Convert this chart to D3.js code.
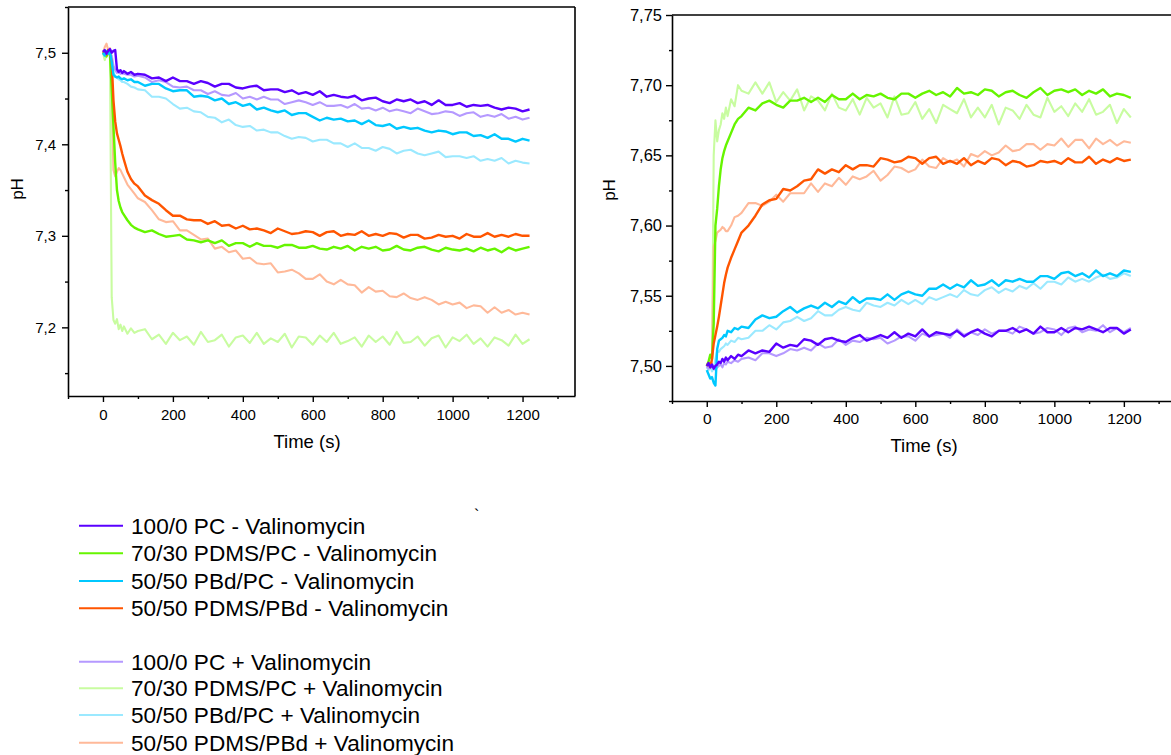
<!DOCTYPE html>
<html><head><meta charset="utf-8">
<script src="https://cdn.jsdelivr.net/npm/d3@7"></script>
<style>body{margin:0;background:#fff;} svg{display:block;font-family:"Liberation Sans",Arial,sans-serif;}</style>
</head><body><svg id="c" width="1171" height="755"></svg>
<script>
// ---------------- DATA ----------------
const timeS = [0,5,10,15,20,25,30,35,40,45,50,55,60,70,80,90,100,120,140,160,180,200,220,240,260,280,300,320,340,360,380,400,420,440,460,480,500,520,540,560,580,600,620,640,660,680,700,720,740,760,780,800,820,840,860,880,900,920,940,960,980,1000,1020,1040,1060,1080,1100,1120,1140,1160,1180,1200,1220];

const seriesNames = ["100/0 PC - Valinomycin","70/30 PDMS/PC - Valinomycin","50/50 PBd/PC - Valinomycin","50/50 PDMS/PBd - Valinomycin","100/0 PC + Valinomycin","70/30 PDMS/PC + Valinomycin","50/50 PBd/PC + Valinomycin","50/50 PDMS/PBd + Valinomycin"];
const seriesColors = ["#5a00ff","#66f500","#00c8ff","#ff5500","#b599ff","#c8fca0","#9be9ff","#ffb999"];

// Left panel (pH decreasing)
const left_PC_minus = [7.501,7.503,7.499,7.502,7.504,7.500,7.502,7.503,7.482,7.479,7.481,7.478,7.480,7.477,7.479,7.476,7.477,
7.476,7.472,7.473,7.469,7.473,7.469,7.469,7.466,7.469,7.467,7.463,7.466,7.466,7.462,7.461,7.463,7.464,7.459,7.460,7.460,7.457,7.459,7.455,7.457,7.454,7.458,7.452,7.454,7.452,7.451,7.453,7.448,7.450,7.451,7.447,7.445,7.449,7.447,7.449,7.445,7.447,7.443,7.448,7.443,7.443,7.445,7.441,7.443,7.442,7.443,7.440,7.438,7.440,7.439,7.436,7.438];
const left_PDMSPC_minus = [7.498,7.502,7.496,7.500,7.499,7.460,7.420,7.380,7.350,7.338,7.331,7.326,7.323,7.317,7.312,7.309,7.307,
7.304,7.306,7.302,7.299,7.300,7.301,7.296,7.295,7.293,7.295,7.292,7.295,7.289,7.292,7.292,7.288,7.292,7.289,7.289,7.287,7.290,7.290,7.287,7.287,7.289,7.286,7.285,7.288,7.286,7.289,7.284,7.288,7.286,7.288,7.284,7.285,7.289,7.285,7.284,7.287,7.288,7.285,7.283,7.287,7.285,7.284,7.286,7.283,7.287,7.284,7.286,7.282,7.287,7.284,7.286,7.288];
const left_PBdPC_minus = [7.500,7.497,7.502,7.499,7.501,7.490,7.476,7.474,7.473,7.474,7.472,7.471,7.472,7.470,7.471,7.468,7.468,
7.464,7.466,7.466,7.461,7.458,7.459,7.459,7.452,7.453,7.452,7.448,7.450,7.444,7.446,7.442,7.444,7.438,7.440,7.437,7.435,7.437,7.432,7.434,7.434,7.430,7.426,7.429,7.427,7.428,7.425,7.426,7.422,7.426,7.421,7.420,7.422,7.417,7.419,7.417,7.418,7.415,7.413,7.415,7.414,7.411,7.413,7.413,7.409,7.410,7.407,7.411,7.406,7.406,7.403,7.406,7.404];
const left_PDMSPBd_minus = [7.500,7.502,7.498,7.503,7.499,7.490,7.448,7.425,7.412,7.405,7.398,7.390,7.383,7.370,7.362,7.357,7.354,
7.344,7.339,7.335,7.328,7.322,7.322,7.318,7.317,7.317,7.313,7.316,7.311,7.312,7.308,7.311,7.307,7.308,7.306,7.303,7.308,7.305,7.302,7.303,7.305,7.304,7.300,7.304,7.305,7.300,7.302,7.301,7.305,7.300,7.302,7.300,7.303,7.302,7.298,7.301,7.301,7.297,7.298,7.301,7.299,7.300,7.297,7.302,7.299,7.299,7.303,7.299,7.301,7.299,7.302,7.300,7.300];
const left_PC_plus = [7.500,7.502,7.498,7.503,7.499,7.497,7.486,7.481,7.478,7.479,7.477,7.478,7.477,7.476,7.476,7.474,7.475,
7.473,7.468,7.470,7.468,7.463,7.462,7.463,7.459,7.459,7.455,7.458,7.454,7.453,7.456,7.450,7.452,7.449,7.452,7.449,7.449,7.444,7.446,7.448,7.446,7.443,7.446,7.442,7.442,7.443,7.440,7.444,7.439,7.440,7.437,7.440,7.436,7.438,7.436,7.434,7.439,7.436,7.433,7.434,7.436,7.435,7.431,7.434,7.435,7.430,7.432,7.430,7.433,7.428,7.430,7.427,7.429];
const left_PDMSPC_plus = [7.500,7.492,7.498,7.502,7.497,7.233,7.208,7.204,7.209,7.198,7.203,7.196,7.201,7.193,7.199,7.194,7.196,
7.198,7.187,7.192,7.182,7.194,7.186,7.190,7.181,7.195,7.184,7.186,7.192,7.179,7.189,7.191,7.183,7.194,7.182,7.188,7.184,7.193,7.178,7.190,7.189,7.181,7.191,7.184,7.194,7.182,7.185,7.189,7.179,7.191,7.184,7.190,7.181,7.195,7.183,7.184,7.190,7.180,7.188,7.191,7.178,7.189,7.185,7.192,7.182,7.188,7.179,7.189,7.186,7.180,7.192,7.182,7.187];
const left_PBdPC_plus = [7.500,7.503,7.498,7.501,7.499,7.489,7.478,7.475,7.473,7.471,7.470,7.468,7.468,7.466,7.463,7.462,7.460,
7.459,7.452,7.452,7.450,7.444,7.439,7.440,7.436,7.435,7.430,7.429,7.424,7.427,7.421,7.419,7.420,7.415,7.416,7.413,7.413,7.409,7.406,7.408,7.407,7.403,7.405,7.405,7.401,7.401,7.397,7.401,7.396,7.396,7.393,7.397,7.395,7.390,7.393,7.394,7.390,7.388,7.390,7.392,7.386,7.387,7.387,7.385,7.387,7.382,7.384,7.382,7.385,7.379,7.382,7.380,7.379];
const left_PDMSPBd_plus = [7.500,7.506,7.510,7.503,7.505,7.450,7.372,7.365,7.370,7.374,7.372,7.368,7.364,7.356,7.351,7.346,7.341,
7.337,7.328,7.318,7.315,7.316,7.306,7.306,7.301,7.296,7.297,7.286,7.288,7.282,7.284,7.275,7.276,7.270,7.269,7.270,7.260,7.261,7.263,7.259,7.253,7.253,7.258,7.250,7.247,7.252,7.247,7.246,7.238,7.244,7.239,7.240,7.234,7.233,7.237,7.232,7.230,7.233,7.230,7.225,7.228,7.225,7.227,7.221,7.224,7.223,7.216,7.222,7.216,7.219,7.214,7.216,7.214];

// Right panel (pH increasing)
const right_PC_minus = [7.500,7.502,7.499,7.501,7.498,7.500,7.501,7.503,7.502,7.505,7.503,7.506,7.504,7.507,7.505,7.508,7.507,
7.511,7.509,7.511,7.510,7.516,7.513,7.515,7.514,7.519,7.518,7.515,7.519,7.520,7.518,7.517,7.520,7.522,7.518,7.520,7.522,7.520,7.524,7.520,7.523,7.521,7.526,7.521,7.524,7.523,7.522,7.525,7.521,7.524,7.526,7.523,7.521,7.525,7.525,7.527,7.524,7.526,7.523,7.528,7.524,7.524,7.527,7.524,7.527,7.526,7.528,7.526,7.524,7.527,7.527,7.523,7.526];
const right_PDMSPC_minus = [7.500,7.503,7.508,7.505,7.530,7.600,7.612,7.628,7.640,7.648,7.653,7.657,7.660,7.666,7.672,7.676,7.678,
7.684,7.682,7.687,7.689,7.686,7.684,7.689,7.689,7.691,7.688,7.691,7.688,7.693,7.690,7.690,7.694,7.690,7.693,7.692,7.694,7.691,7.690,7.694,7.694,7.691,7.694,7.696,7.693,7.695,7.692,7.698,7.694,7.695,7.693,7.697,7.696,7.692,7.695,7.696,7.693,7.691,7.695,7.698,7.693,7.696,7.697,7.695,7.697,7.693,7.696,7.694,7.697,7.692,7.694,7.693,7.691];
const right_PBdPC_minus = [7.497,7.494,7.491,7.492,7.488,7.486,7.512,7.518,7.519,7.520,7.522,7.521,7.525,7.524,7.527,7.526,7.528,
7.527,7.533,7.536,7.534,7.535,7.539,7.542,7.538,7.541,7.543,7.541,7.545,7.542,7.546,7.544,7.549,7.545,7.548,7.548,7.547,7.551,7.547,7.551,7.553,7.551,7.550,7.555,7.555,7.558,7.555,7.558,7.556,7.561,7.557,7.558,7.561,7.557,7.561,7.560,7.562,7.560,7.560,7.564,7.564,7.562,7.566,7.567,7.564,7.566,7.563,7.568,7.564,7.566,7.564,7.568,7.567];
const right_PDMSPBd_minus = [7.500,7.502,7.499,7.505,7.516,7.522,7.528,7.535,7.543,7.551,7.559,7.565,7.570,7.577,7.583,7.589,7.595,
7.600,7.607,7.615,7.618,7.619,7.626,7.625,7.628,7.632,7.633,7.640,7.637,7.640,7.638,7.643,7.640,7.643,7.643,7.642,7.648,7.647,7.645,7.646,7.649,7.648,7.644,7.648,7.649,7.644,7.646,7.644,7.648,7.643,7.646,7.644,7.648,7.647,7.643,7.646,7.645,7.642,7.643,7.646,7.645,7.646,7.644,7.648,7.645,7.645,7.649,7.644,7.647,7.645,7.648,7.646,7.647];
const right_PC_plus = [7.500,7.498,7.501,7.499,7.500,7.497,7.499,7.500,7.501,7.499,7.502,7.501,7.503,7.502,7.504,7.503,7.505,
7.506,7.504,7.509,7.509,7.507,7.509,7.512,7.511,7.513,7.511,7.516,7.513,7.514,7.519,7.515,7.518,7.517,7.520,7.519,7.520,7.516,7.518,7.521,7.521,7.518,7.523,7.521,7.522,7.523,7.520,7.526,7.522,7.524,7.522,7.526,7.523,7.525,7.525,7.523,7.528,7.526,7.523,7.524,7.527,7.526,7.522,7.527,7.528,7.524,7.526,7.525,7.529,7.524,7.527,7.524,7.527];
const right_PDMSPC_plus = [7.500,7.497,7.502,7.499,7.650,7.675,7.660,7.668,7.672,7.680,7.676,7.684,7.678,7.690,7.685,7.700,7.696,
7.694,7.702,7.694,7.702,7.688,7.695,7.689,7.697,7.682,7.692,7.689,7.682,7.694,7.684,7.682,7.690,7.679,7.691,7.684,7.687,7.677,7.692,7.679,7.680,7.688,7.676,7.683,7.673,7.686,7.683,7.680,7.690,7.677,7.684,7.677,7.686,7.672,7.684,7.682,7.676,7.686,7.679,7.677,7.691,7.681,7.685,7.678,7.687,7.681,7.690,7.679,7.681,7.686,7.673,7.683,7.677];
const right_PBdPC_plus = [7.499,7.497,7.500,7.496,7.498,7.505,7.511,7.510,7.512,7.513,7.514,7.516,7.515,7.518,7.517,7.520,7.519,
7.520,7.525,7.525,7.529,7.526,7.531,7.532,7.535,7.532,7.534,7.539,7.536,7.536,7.540,7.542,7.540,7.539,7.545,7.543,7.542,7.545,7.543,7.547,7.544,7.547,7.544,7.549,7.547,7.549,7.551,7.549,7.554,7.551,7.550,7.554,7.556,7.552,7.555,7.553,7.557,7.555,7.559,7.555,7.560,7.560,7.558,7.563,7.560,7.562,7.560,7.563,7.565,7.562,7.563,7.566,7.564];
const right_PDMSPBd_plus = [7.500,7.502,7.498,7.501,7.585,7.589,7.595,7.596,7.597,7.599,7.598,7.596,7.596,7.600,7.606,7.607,7.609,
7.616,7.616,7.614,7.617,7.622,7.617,7.623,7.623,7.623,7.630,7.624,7.630,7.628,7.634,7.629,7.635,7.633,7.635,7.639,7.632,7.636,7.642,7.641,7.638,7.640,7.647,7.642,7.641,7.648,7.645,7.647,7.642,7.651,7.649,7.653,7.650,7.652,7.657,7.653,7.654,7.658,7.658,7.654,7.658,7.657,7.662,7.656,7.661,7.661,7.655,7.662,7.658,7.661,7.657,7.660,7.659];

// Axis ticks
const xTicks = [0,200,400,600,800,1000,1200];
const xTickLabels = ["0","200","400","600","800","1000","1200"];
const xMinorTicks = [-100,100,300,500,700,900,1100,1300];
const leftYTicks = [7.2,7.3,7.4,7.5];
const leftYTickLabels = ["7,2","7,3","7,4","7,5"];
const leftYMinorTicks = [7.15,7.25,7.35,7.45,7.55];
const rightYTicks = [7.50,7.55,7.60,7.65,7.70,7.75];
const rightYTickLabels = ["7,50","7,55","7,60","7,65","7,70","7,75"];
const rightYMinorTicks = [7.475,7.525,7.575,7.625,7.675,7.725];

const leftSeries = [left_PC_minus,left_PDMSPC_minus,left_PBdPC_minus,left_PDMSPBd_minus,left_PC_plus,left_PDMSPC_plus,left_PBdPC_plus,left_PDMSPBd_plus];
const rightSeries = [right_PC_minus,right_PDMSPC_minus,right_PBdPC_minus,right_PDMSPBd_minus,right_PC_plus,right_PDMSPC_plus,right_PBdPC_plus,right_PDMSPBd_plus];

// ---------------- DRAW ----------------
const svg = d3.select("#c");
const FONT = '"Liberation Sans",Arial,sans-serif';

function panel(cfg){
  const x = d3.scaleLinear().domain([-100,1350]).range([cfg.left,cfg.right]);
  const y = d3.scaleLinear().domain(cfg.yDomain).range([cfg.bottom,cfg.top]);
  const g = svg.append("g");
  svg.append("clipPath").attr("id",cfg.id).append("rect")
    .attr("x",cfg.left).attr("y",cfg.top).attr("width",cfg.right-cfg.left).attr("height",cfg.bottom-cfg.top);
  const lg = g.append("g").attr("clip-path",`url(#${cfg.id})`);
  const line = d3.line().x((d,i)=>x(timeS[i])).y(d=>y(d));
  cfg.order.forEach(k=>{
    lg.append("path").attr("d",line(cfg.series[k])).attr("fill","none")
      .attr("stroke",seriesColors[k]).attr("stroke-width",k<4?2.4:2.1)
      .attr("stroke-linejoin","round");
  });
  // frame
  g.append("line").attr("x1",cfg.left).attr("x2",cfg.right).attr("y1",cfg.top).attr("y2",cfg.top)
    .attr("stroke","#000").attr("stroke-width",1.6);
  g.append("line").attr("x1",cfg.right).attr("x2",cfg.right).attr("y1",cfg.top).attr("y2",cfg.bottom)
    .attr("stroke","#000").attr("stroke-width",1.6);
  // minor ticks
  g.append("g").attr("transform",`translate(0,${cfg.bottom})`)
    .call(d3.axisBottom(x).tickValues(xMinorTicks).tickSize(3).tickFormat(""))
    .call(s=>s.select(".domain").remove());
  g.append("g").attr("transform",`translate(${cfg.left},0)`)
    .call(d3.axisLeft(y).tickValues(cfg.yMinor).tickSize(3).tickFormat(""))
    .call(s=>s.select(".domain").remove());
  // major axes
  const xa = g.append("g").attr("transform",`translate(0,${cfg.bottom})`)
    .call(d3.axisBottom(x).tickValues(xTicks).tickFormat(d=>xTickLabels[xTicks.indexOf(d)])
      .tickSize(6).tickPadding(cfg.xPad).tickSizeOuter(0));
  const ya = g.append("g").attr("transform",`translate(${cfg.left},0)`)
    .call(d3.axisLeft(y).tickValues(cfg.yTicks).tickFormat(d=>cfg.yLabels[cfg.yTicks.indexOf(d)])
      .tickSize(6).tickPadding(cfg.yPad).tickSizeOuter(0));
  xa.attr("font-size",cfg.xFont).attr("font-family",FONT);
  ya.attr("font-size",cfg.yFont).attr("font-family",FONT);
  g.selectAll(".domain").attr("stroke","#000").attr("stroke-width",1.6);
  g.selectAll(".tick line").attr("stroke","#000").attr("stroke-width",1.4);
  g.selectAll(".tick text").attr("fill","#000");
  // titles
  g.append("text").attr("x",cfg.xTitle[0]).attr("y",cfg.xTitle[1]).attr("text-anchor","middle")
    .attr("font-size",18.5).attr("font-family",FONT).text("Time (s)");
  g.append("text").attr("transform",`translate(${cfg.yTitle[0]},${cfg.yTitle[1]}) rotate(-90)`)
    .attr("text-anchor","middle").attr("dy","0.35em")
    .attr("font-size",17).attr("font-family",FONT).text("pH");
}

panel({id:"clipL",left:68,right:575,top:7,bottom:396,yDomain:[7.125,7.55],
  series:leftSeries,order:[7,5,6,4,1,3,2,0],
  yTicks:leftYTicks,yLabels:leftYTickLabels,yMinor:leftYMinorTicks,
  xPad:7,yPad:6,xFont:15,yFont:15,xTitle:[307,448],yTitle:[17,189]});

panel({id:"clipR",left:672,right:1176,top:15,bottom:401,yDomain:[7.475,7.75],
  series:rightSeries,order:[5,7,6,4,1,3,2,0],
  yTicks:rightYTicks,yLabels:rightYTickLabels,yMinor:rightYMinorTicks,
  xPad:6,yPad:4,xFont:15.5,yFont:16.5,xTitle:[924,452],yTitle:[609,190]});

// legend
const legendY = [525.7,553.3,581,608.3,661.7,688.3,715,742.7];
const lgd = svg.append("g");
seriesNames.forEach((name,i)=>{
  lgd.append("line").attr("x1",79).attr("x2",123).attr("y1",legendY[i]).attr("y2",legendY[i])
    .attr("stroke",seriesColors[i]).attr("stroke-width",2);
  lgd.append("text").attr("x",131).attr("y",legendY[i]+7.8).attr("font-size",22.6)
    .attr("font-family",FONT).attr("fill","#000").text(name);
});
svg.append("text").attr("x",474).attr("y",521).attr("font-size",16).attr("font-family",FONT).text("`");
</script>
</body></html>
